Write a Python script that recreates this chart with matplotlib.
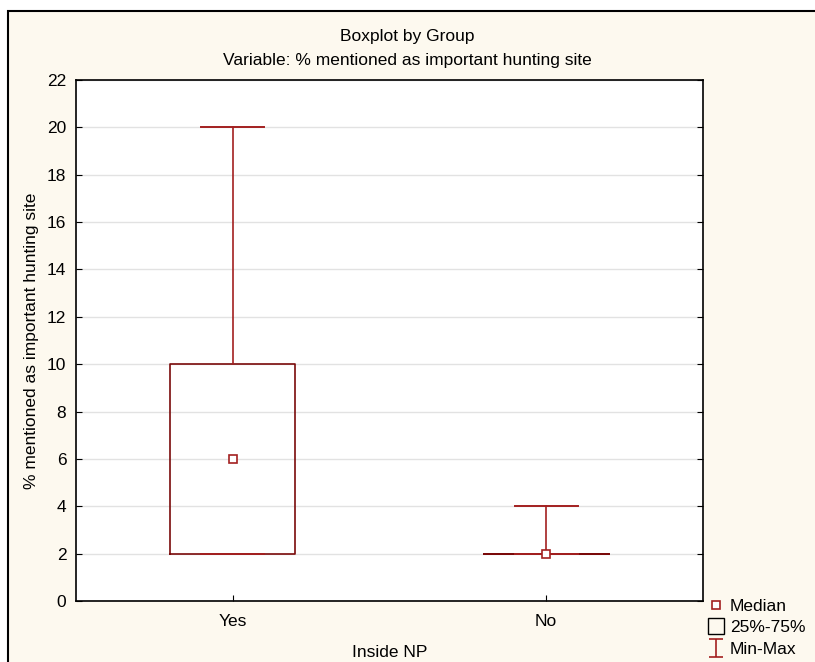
import matplotlib
matplotlib.use("Agg")
import matplotlib.pyplot as plt
from matplotlib.patches import Rectangle
from matplotlib.lines import Line2D
from matplotlib.path import Path

FS = 12.5
plt.rcParams['font.family'] = ['Liberation Sans', 'DejaVu Sans']
plt.rcParams['font.size'] = FS

# Summary statistics per group
groups = ["Yes", "No"]
mins = [2, 2]
q1s = [2, 2]
medians = [6, 2]
q3s = [10, 2]
maxs = [20, 4]
y_ticks = list(range(0, 23, 2))

BOX_C = "#7a0a0a"
WHISK_C = "#a32020"
CREAM = "#fdf9ef"

fig = plt.figure(figsize=(8.15, 6.62), dpi=100)
fig.patch.set_facecolor("white")

# framed panel behind the chart
W, H = 815, 662
fig.patches.append(Rectangle((8 / W, -0.1), 1.2, (H - 11) / H + 0.1,
                             transform=fig.transFigure, facecolor=CREAM,
                             edgecolor="black", linewidth=1.5, zorder=-10))

ax = fig.add_axes([76 / W, 1 - 601 / H, (703 - 76) / W, (601 - 80) / H])
ax.set_facecolor("white")

stats = [dict(med=m, q1=a, q3=b, whislo=lo, whishi=hi, label=g)
         for g, lo, a, m, b, hi in zip(groups, mins, q1s, medians, q3s, maxs)]
pos = list(range(len(groups)))
ax.bxp(stats, positions=pos, widths=0.4, capwidths=0.2, showfliers=False,
       boxprops=dict(color=BOX_C, linewidth=1.2),
       whiskerprops=dict(color=WHISK_C, linewidth=1.2),
       capprops=dict(color=WHISK_C, linewidth=1.4),
       medianprops=dict(visible=False), zorder=3)
ax.plot(pos, medians, linestyle="none", marker="s", markersize=6,
        markerfacecolor="white", markeredgecolor=WHISK_C,
        markeredgewidth=1.2, zorder=4)

ax.set_xlim(-0.5, 1.5)
ax.set_ylim(0, 22)
ax.set_yticks(y_ticks)
ax.set_xticks(pos)
ax.set_xticklabels(groups)
ax.yaxis.grid(True, color="#e2e2e2", linewidth=1)
ax.set_axisbelow(True)
ax.tick_params(axis="both", direction="in", length=4, color="black",
               labelsize=FS)
ax.tick_params(axis="y", right=True, pad=7)
ax.tick_params(axis="x", pad=9)
for s in ax.spines.values():
    s.set_linewidth(1.2)
    s.set_color("black")

ax.set_xlabel("Inside NP", fontsize=FS, labelpad=12)
ax.set_ylabel("% mentioned as important hunting site", fontsize=FS, labelpad=6)

fig.text(0.5, 1 - 37 / H, "Boxplot by Group", ha="center", va="center", fontsize=FS)
fig.text(0.5, 1 - 60 / H, "Variable: % mentioned as important hunting site",
         ha="center", va="center", fontsize=FS)

# legend symbols
ibeam = Path([(-0.4, 0.5), (0.4, 0.5), (0, 0.5), (0, -0.5), (-0.4, -0.5), (0.4, -0.5)],
             [Path.MOVETO, Path.LINETO, Path.MOVETO, Path.LINETO,
              Path.MOVETO, Path.LINETO])
handles = [
    Line2D([], [], linestyle="none", marker="s", markersize=6,
           markerfacecolor="white", markeredgecolor=WHISK_C, markeredgewidth=1.2),
    Line2D([], [], linestyle="none", marker="s", markersize=12,
           markerfacecolor=CREAM, markeredgecolor="black", markeredgewidth=1.0),
    Line2D([], [], linestyle="none", marker=ibeam, markersize=13,
           markerfacecolor="none", markeredgecolor=WHISK_C, markeredgewidth=1.2),
]
fig.legend(handles, ["Median", "25%-75%", "Min-Max"], loc="upper left",
           bbox_to_anchor=(704 / W, 1 - 595 / H), frameon=False,
           borderaxespad=0, handlelength=1.0, handletextpad=0.3,
           labelspacing=0.37, borderpad=0.2, fontsize=FS)

fig.savefig("out.png", dpi=100, facecolor=fig.get_facecolor())
